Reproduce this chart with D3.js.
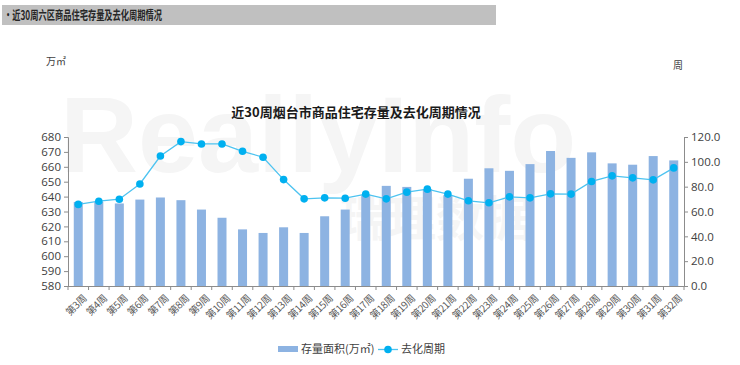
<!DOCTYPE html>
<meta charset="utf-8">
<style>
    body { margin: 0; background: #fff; }
    svg { font-family: "Microsoft YaHei", "Noto Sans CJK SC", sans-serif; }
</style>
<script src="https://d3js.org/d3.v7.min.js"></script>
<svg id="chart" width="740" height="365"></svg>
<script>
    // data
    var weeks = ["第3周","第4周","第5周","第6周","第7周","第8周","第9周","第10周","第11周","第12周",
                 "第13周","第14周","第15周","第16周","第17周","第18周","第19周","第20周","第21周","第22周",
                 "第23周","第24周","第25周","第26周","第27周","第28周","第29周","第30周","第31周","第32周"];
    var stock = [636.4, 636.5, 635.4, 638, 639.4, 637.6, 631.3, 625.8, 618, 615.6,
                 619.4, 615.6, 626.8, 631.3, 641.4, 647.2, 646.5, 645, 641, 652,
                 659, 657.3, 661.8, 670.6, 666, 669.7, 662.3, 661.4, 667.2, 664.3];
    var cycle = [65.7, 68.3, 69.9, 82.2, 104.7, 116.3, 114.4, 114.4, 108.5, 103.7,
                 85.7, 70.2, 71, 70.7, 74, 70.2, 75.6, 78, 74, 68.6,
                 67, 71.8, 71, 74.2, 74, 84.2, 88.7, 87.1, 85.5, 95.1];
    var leftTicks = [580, 590, 600, 610, 620, 630, 640, 650, 660, 670, 680];
    var rightTicks = [0, 20, 40, 60, 80, 100, 120];

    var svg = d3.select("#chart");
    var plotLeft = 68, plotRight = 684, plotTop = 137, plotBottom = 286;

    // header strip
    svg.append("rect").attr("x", 2).attr("y", 5).attr("width", 494).attr("height", 20).attr("fill", "#c0c0c0");
    svg.append("text").attr("transform", "translate(4,19.5) scale(0.66,1)")
        .attr("font-size", 12.5).attr("font-weight", "bold").attr("fill", "#262626")
        .text("•近30周六区商品住宅存量及去化周期情况");

    // faint watermark
    var wm = svg.append("g").attr("fill", "#f5f5f5");
    wm.append("text").attr("x", 60).attr("y", 172).attr("font-size", 108).attr("font-weight", "bold")
        .attr("font-family", "Arial, Liberation Sans, sans-serif").text("ReallyInfo");
    wm.append("text").attr("x", 340).attr("y", 236).attr("font-size", 48).attr("font-weight", "bold")
        .text("瑞理数据");

    var x = d3.scaleBand().domain(weeks).range([plotLeft, plotRight]);
    var yL = d3.scaleLinear().domain([580, 680]).range([plotBottom, plotTop]);
    var yR = d3.scaleLinear().domain([0, 120]).range([plotBottom, plotTop]);

    // bars
    var bw = 9;
    svg.append("g").selectAll("rect")
        .data(stock)
        .enter().append("rect")
        .attr("x", function(d, i) { return x(weeks[i]) + x.bandwidth() / 2 - bw / 2; })
        .attr("y", function(d) { return yL(d); })
        .attr("width", bw)
        .attr("height", function(d) { return plotBottom - yL(d); })
        .attr("fill", "#8db3e2");

    // axes
    var axisColor = "#8c8c8c", labelColor = "#404040";
    var gl = svg.append("g").attr("transform", "translate(" + plotLeft + ",0)")
        .call(d3.axisLeft(yL).tickValues(leftTicks).tickSize(4).tickPadding(3));
    var gr = svg.append("g").attr("transform", "translate(" + plotRight + ",0)")
        .call(d3.axisRight(yR).tickValues(rightTicks).tickSize(4).tickPadding(3).tickFormat(d3.format(".1f")));
    [gl, gr].forEach(function(g) {
        g.select(".domain").attr("stroke", axisColor);
        g.selectAll(".tick line").attr("stroke", axisColor);
        g.selectAll("text").attr("font-size", 11.5).attr("fill", labelColor)
            .attr("font-family", "Open Sans, Lato, sans-serif");
    });

    // x axis with ticks at band edges
    var gx = svg.append("g");
    gx.append("line").attr("x1", plotLeft).attr("x2", plotRight)
        .attr("y1", plotBottom + 0.5).attr("y2", plotBottom + 0.5)
        .attr("stroke", axisColor);
    gx.selectAll("line.t").data(weeks.concat(["end"])).enter().append("line")
        .attr("class", "t")
        .attr("x1", function(d, i) { return plotLeft + i * x.step(); })
        .attr("x2", function(d, i) { return plotLeft + i * x.step(); })
        .attr("y1", plotBottom).attr("y2", plotBottom + 4)
        .attr("stroke", axisColor);
    gx.selectAll("text").data(weeks).enter().append("text")
        .attr("transform", function(d) {
            return "translate(" + (x(d) + x.bandwidth() / 2 + 4) + "," + (plotBottom + 8) + ") rotate(-45)";
        })
        .attr("text-anchor", "end")
        .attr("dy", "0.7em")
        .attr("font-size", 10)
        .attr("letter-spacing", -0.4)
        .attr("fill", "#595959")
        .text(function(d) { return d; });

    // line series
    var line = d3.line()
        .x(function(d, i) { return x(weeks[i]) + x.bandwidth() / 2; })
        .y(function(d) { return yR(d); });
    svg.append("path").datum(cycle)
        .attr("d", line)
        .attr("fill", "none")
        .attr("stroke", "#4dc3f0")
        .attr("stroke-width", 1.3);
    svg.append("g").selectAll("circle")
        .data(cycle)
        .enter().append("circle")
        .attr("cx", function(d, i) { return x(weeks[i]) + x.bandwidth() / 2; })
        .attr("cy", function(d) { return yR(d); })
        .attr("r", 3.8)
        .attr("fill", "#00b0f0");

    // titles and units
    svg.append("text").attr("x", 356).attr("y", 117).attr("text-anchor", "middle")
        .attr("font-size", 13).attr("font-weight", "bold").attr("fill", "#1a1a1a")
        .text("近30周烟台市商品住宅存量及去化周期情况");
    svg.append("text").attr("x", 46).attr("y", 65).attr("font-size", 10).attr("fill", "#404040").text("万㎡");
    svg.append("text").attr("x", 673).attr("y", 69).attr("font-size", 10).attr("fill", "#404040").text("周");

    // legend
    var lg = svg.append("g");
    lg.append("rect").attr("x", 278).attr("y", 346).attr("width", 20).attr("height", 6).attr("fill", "#8db3e2");
    lg.append("text").attr("x", 301).attr("y", 353).attr("font-size", 11).attr("fill", "#404040").text("存量面积(万㎡)");
    lg.append("line").attr("x1", 378).attr("x2", 398).attr("y1", 349.5).attr("y2", 349.5)
        .attr("stroke", "#4dc3f0").attr("stroke-width", 1.3);
    lg.append("circle").attr("cx", 388).attr("cy", 349.5).attr("r", 3.8).attr("fill", "#00b0f0");
    lg.append("text").attr("x", 401).attr("y", 353).attr("font-size", 11).attr("fill", "#404040").text("去化周期");
</script>
